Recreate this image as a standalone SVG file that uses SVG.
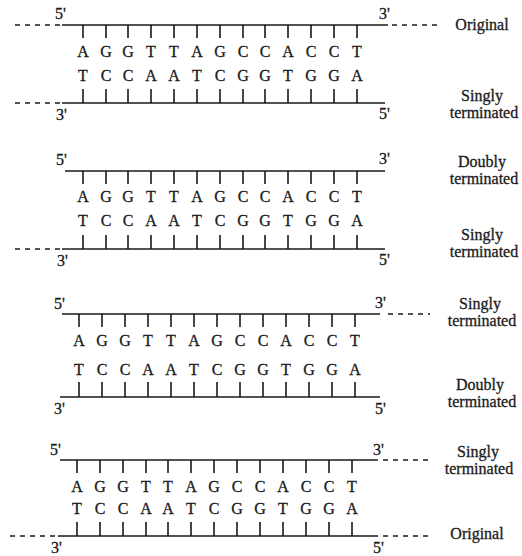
<svg xmlns="http://www.w3.org/2000/svg" width="522" height="556" viewBox="0 0 522 556">
<style>
.s{stroke:#1a1a1a;stroke-width:1.6;fill:none}
.d{stroke:#1a1a1a;stroke-width:1.6;stroke-dasharray:5 5;fill:none}
.b{font-family:"Liberation Serif",serif;font-size:16px;fill:#1a1a1a;text-anchor:middle;stroke:#1a1a1a;stroke-width:0.3}
.p{font-family:"Liberation Serif",serif;font-size:16px;fill:#1a1a1a;stroke:#1a1a1a;stroke-width:0.3}
.l{font-family:"Liberation Serif",serif;font-size:16px;fill:#1a1a1a;text-anchor:middle;stroke:#1a1a1a;stroke-width:0.3}
</style>
<rect width="522" height="556" fill="#fff"/>

<g id="panel1">
<path class="s" d="M62 25H388M62 103H385"/>
<path class="d" d="M15 25H60M392 25H437M15 103H60"/>
<path class="s" d="M83 25v13M106 25v13M128 25v13M151 25v13M174 25v13M197 25v13M220 25v13M243 25v13M265 25v13M288 25v13M311 25v13M334 25v13M357 25v13M83 103v-14M106 103v-14M128 103v-14M151 103v-14M174 103v-14M197 103v-14M220 103v-14M243 103v-14M265 103v-14M288 103v-14M311 103v-14M334 103v-14M357 103v-14"/>
<text class="b" y="57"><tspan x="83">A</tspan><tspan x="106">G</tspan><tspan x="128">G</tspan><tspan x="151">T</tspan><tspan x="174">T</tspan><tspan x="197">A</tspan><tspan x="220">G</tspan><tspan x="243">C</tspan><tspan x="265">C</tspan><tspan x="288">A</tspan><tspan x="311">C</tspan><tspan x="334">C</tspan><tspan x="357">T</tspan></text>
<text class="b" y="81"><tspan x="83">T</tspan><tspan x="106">C</tspan><tspan x="128">C</tspan><tspan x="151">A</tspan><tspan x="174">A</tspan><tspan x="197">T</tspan><tspan x="220">C</tspan><tspan x="243">G</tspan><tspan x="265">G</tspan><tspan x="288">T</tspan><tspan x="311">G</tspan><tspan x="334">G</tspan><tspan x="357">A</tspan></text>
<text class="p" x="55" y="19">5'</text>
<text class="p" x="379" y="19">3'</text>
<text class="p" x="56" y="120">3'</text>
<text class="p" x="379" y="119">5'</text>
<text class="l" x="482" y="30">Original</text>
<text class="l" x="482" y="101">Singly</text>
<text class="l" x="484" y="118">terminated</text>
</g>

<g id="panel2">
<path class="s" d="M65 171H385M62 249H385"/>
<path class="d" d="M15 249H60"/>
<path class="s" d="M83 171v13M106 171v13M128 171v13M151 171v13M174 171v13M197 171v13M220 171v13M243 171v13M265 171v13M288 171v13M311 171v13M334 171v13M357 171v13M83 249v-14M106 249v-14M128 249v-14M151 249v-14M174 249v-14M197 249v-14M220 249v-14M243 249v-14M265 249v-14M288 249v-14M311 249v-14M334 249v-14M357 249v-14"/>
<text class="b" y="202"><tspan x="83">A</tspan><tspan x="106">G</tspan><tspan x="128">G</tspan><tspan x="151">T</tspan><tspan x="174">T</tspan><tspan x="197">A</tspan><tspan x="220">G</tspan><tspan x="243">C</tspan><tspan x="265">C</tspan><tspan x="288">A</tspan><tspan x="311">C</tspan><tspan x="334">C</tspan><tspan x="357">T</tspan></text>
<text class="b" y="226"><tspan x="83">T</tspan><tspan x="106">C</tspan><tspan x="128">C</tspan><tspan x="151">A</tspan><tspan x="174">A</tspan><tspan x="197">T</tspan><tspan x="220">C</tspan><tspan x="243">G</tspan><tspan x="265">G</tspan><tspan x="288">T</tspan><tspan x="311">G</tspan><tspan x="334">G</tspan><tspan x="357">A</tspan></text>
<text class="p" x="56" y="165">5'</text>
<text class="p" x="379" y="164">3'</text>
<text class="p" x="57" y="266">3'</text>
<text class="p" x="379" y="265">5'</text>
<text class="l" x="482" y="167">Doubly</text>
<text class="l" x="484" y="184">terminated</text>
<text class="l" x="482" y="240">Singly</text>
<text class="l" x="484" y="257">terminated</text>
</g>

<g id="panel3">
<path class="s" d="M62 314H380M60 397H380"/>
<path class="d" d="M388 314H430"/>
<path class="s" d="M79 314v13M102 314v13M125 314v13M148 314v13M171 314v13M194 314v13M217 314v13M240 314v13M263 314v13M286 314v13M309 314v13M332 314v13M355 314v13M79 397v-15M102 397v-15M125 397v-15M148 397v-15M171 397v-15M194 397v-15M217 397v-15M240 397v-15M263 397v-15M286 397v-15M309 397v-15M332 397v-15M355 397v-15"/>
<text class="b" y="346"><tspan x="79">A</tspan><tspan x="102">G</tspan><tspan x="125">G</tspan><tspan x="148">T</tspan><tspan x="171">T</tspan><tspan x="194">A</tspan><tspan x="217">G</tspan><tspan x="240">C</tspan><tspan x="263">C</tspan><tspan x="286">A</tspan><tspan x="309">C</tspan><tspan x="332">C</tspan><tspan x="355">T</tspan></text>
<text class="b" y="375"><tspan x="79">T</tspan><tspan x="102">C</tspan><tspan x="125">C</tspan><tspan x="148">A</tspan><tspan x="171">A</tspan><tspan x="194">T</tspan><tspan x="217">C</tspan><tspan x="240">G</tspan><tspan x="263">G</tspan><tspan x="286">T</tspan><tspan x="309">G</tspan><tspan x="332">G</tspan><tspan x="355">A</tspan></text>
<text class="p" x="54" y="309">5'</text>
<text class="p" x="375" y="308">3'</text>
<text class="p" x="54" y="414">3'</text>
<text class="p" x="375" y="414">5'</text>
<text class="l" x="480" y="309">Singly</text>
<text class="l" x="482" y="326">terminated</text>
<text class="l" x="480" y="390">Doubly</text>
<text class="l" x="482" y="407">terminated</text>
</g>

<g id="panel4">
<path class="s" d="M60 460H378M58 536H378"/>
<path class="d" d="M383 460H428M10 536H55M383 536H428"/>
<path class="s" d="M77 460v13M100 460v13M123 460v13M146 460v13M168 460v13M191 460v13M214 460v13M237 460v13M260 460v13M283 460v13M306 460v13M329 460v13M352 460v13M77 536v-14M100 536v-14M123 536v-14M146 536v-14M168 536v-14M191 536v-14M214 536v-14M237 536v-14M260 536v-14M283 536v-14M306 536v-14M329 536v-14M352 536v-14"/>
<text class="b" y="492"><tspan x="77">A</tspan><tspan x="100">G</tspan><tspan x="123">G</tspan><tspan x="146">T</tspan><tspan x="168">T</tspan><tspan x="191">A</tspan><tspan x="214">G</tspan><tspan x="237">C</tspan><tspan x="260">C</tspan><tspan x="283">A</tspan><tspan x="306">C</tspan><tspan x="329">C</tspan><tspan x="352">T</tspan></text>
<text class="b" y="514"><tspan x="77">T</tspan><tspan x="100">C</tspan><tspan x="123">C</tspan><tspan x="146">A</tspan><tspan x="168">A</tspan><tspan x="191">T</tspan><tspan x="214">C</tspan><tspan x="237">G</tspan><tspan x="260">G</tspan><tspan x="283">T</tspan><tspan x="306">G</tspan><tspan x="329">G</tspan><tspan x="352">A</tspan></text>
<text class="p" x="50" y="455">5'</text>
<text class="p" x="373" y="455">3'</text>
<text class="p" x="51" y="553">3'</text>
<text class="p" x="373" y="553">5'</text>
<text class="l" x="478" y="457">Singly</text>
<text class="l" x="479" y="474">terminated</text>
<text class="l" x="477" y="539">Original</text>
</g>
</svg>
